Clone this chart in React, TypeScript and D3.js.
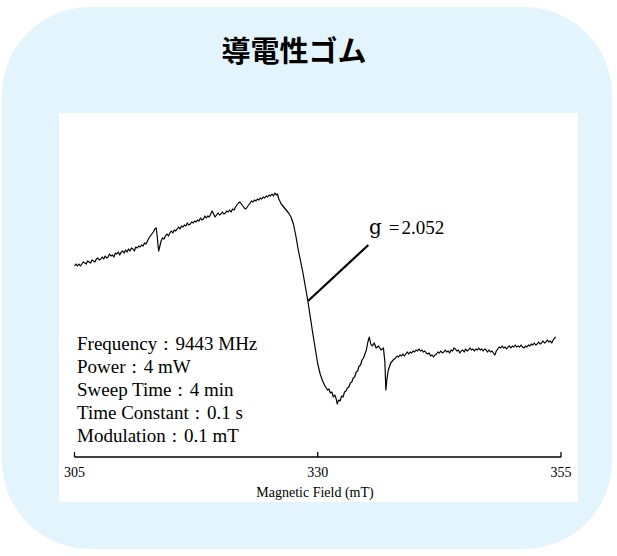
import React from "react";
import * as d3 from "d3";

// ESR spectrum of conductive rubber: [magnetic field (mT), signal (a.u.)]
const spectrum: [number, number][] = [
  [305.0, 34], [305.15, 36], [305.3, 34], [305.45, 36], [305.6, 34], [305.75, 36], [305.9, 38], [306.05, 37],
  [306.2, 36], [306.35, 39], [306.5, 38], [306.65, 37], [306.8, 40], [306.95, 39], [307.1, 38], [307.25, 41],
  [307.4, 42], [307.55, 40], [307.7, 41], [307.85, 43], [308.0, 41], [308.15, 44], [308.3, 42], [308.45, 43],
  [308.6, 46], [308.75, 44], [308.9, 45], [309.05, 43], [309.2, 47], [309.35, 46], [309.5, 48], [309.65, 45],
  [309.8, 48], [309.95, 49], [310.1, 47], [310.25, 50], [310.4, 48], [310.55, 51], [310.7, 49], [310.85, 52],
  [311.0, 51], [311.15, 49], [311.3, 53], [311.45, 52], [311.6, 54], [311.75, 53], [311.9, 55],
  [312.05, 54], [312.2, 57], [312.35, 56], [312.5, 59], [312.65, 62], [312.8, 64], [312.95, 66], [313.1, 68],
  [313.25, 71], [313.4, 72], [313.5, 64], [313.58, 55], [313.65, 49], [313.75, 53], [313.9, 59], [314.05, 62],
  [314.2, 61], [314.35, 64], [314.5, 66], [314.65, 64], [314.8, 67], [314.95, 69], [315.1, 67], [315.25, 70],
  [315.4, 69], [315.55, 71], [315.7, 73], [315.85, 71], [316.0, 74], [316.15, 73], [316.3, 75], [316.45, 74],
  [316.6, 77], [316.75, 75], [316.9, 76], [317.05, 78], [317.2, 77], [317.35, 79], [317.5, 78], [317.65, 80],
  [317.8, 79], [317.95, 82], [318.1, 80], [318.25, 81], [318.4, 84], [318.55, 82], [318.7, 84], [318.85, 83],
  [319.0, 86], [319.15, 89], [319.3, 86], [319.45, 83], [319.6, 85], [319.75, 87], [319.9, 85], [320.05, 86],
  [320.2, 88], [320.35, 86], [320.5, 87], [320.65, 89], [320.8, 88], [320.95, 90], [321.1, 88], [321.25, 91],
  [321.4, 90], [321.55, 93], [321.7, 95], [321.85, 97], [322.0, 98], [322.15, 96], [322.3, 94], [322.45, 92],
  [322.6, 91], [322.75, 93], [322.9, 95], [323.05, 97], [323.2, 99], [323.35, 98], [323.5, 100], [323.65, 99],
  [323.8, 101], [323.95, 100], [324.1, 102], [324.25, 101], [324.4, 103], [324.55, 102], [324.7, 104], [324.85, 103],
  [325.0, 105], [325.15, 104], [325.3, 106], [325.45, 104], [325.6, 107], [325.75, 105], [325.85, 106],
  [326.0, 101], [326.25, 96], [326.5, 93], [326.75, 90], [327.0, 87], [327.25, 83], [327.5, 76], [327.75, 64],
  [328.0, 50], [328.25, 38], [328.5, 26], [328.75, 12], [329.0, -2], [329.25, -18], [329.5, -34], [329.75, -49],
  [330.0, -64], [330.25, -74], [330.5, -81], [330.75, -86], [331.0, -90], [331.15, -89], [331.3, -93], [331.45, -92],
  [331.6, -97], [331.75, -95], [331.9, -99], [332.0, -104], [332.15, -100], [332.3, -101], [332.45, -96], [332.6, -97],
  [332.75, -92], [332.9, -91], [333.05, -88], [333.2, -87], [333.35, -83], [333.5, -82], [333.65, -78], [333.8, -77],
  [333.95, -72], [334.1, -71], [334.25, -66], [334.4, -65], [334.55, -60], [334.7, -58], [334.85, -54], [335.0, -50],
  [335.15, -42], [335.3, -37], [335.45, -44], [335.6, -46], [335.8, -43], [336.0, -48], [336.25, -46], [336.5, -50],
  [336.75, -48], [336.9, -62], [337.0, -90], [337.1, -80], [337.25, -70], [337.5, -63], [337.75, -60],
  [338.0, -58], [338.15, -56], [338.3, -57], [338.45, -55], [338.6, -56], [338.75, -54], [338.9, -56], [339.05, -54],
  [339.2, -52], [339.35, -54], [339.5, -52], [339.65, -53], [339.8, -51], [339.95, -52], [340.1, -50], [340.25, -51],
  [340.4, -49], [340.55, -51], [340.7, -50], [340.85, -52], [341.0, -51], [341.15, -53], [341.3, -54], [341.45, -53],
  [341.6, -56], [341.75, -55], [341.9, -57], [342.05, -55], [342.2, -54], [342.35, -52], [342.5, -53], [342.65, -51],
  [342.8, -53], [342.95, -52], [343.1, -50], [343.25, -52], [343.4, -51], [343.55, -53], [343.7, -50], [343.85, -51],
  [344.0, -48], [344.15, -49], [344.3, -51], [344.45, -50], [344.6, -53], [344.75, -51], [344.9, -50], [345.05, -52],
  [345.2, -49], [345.35, -51], [345.5, -50], [345.65, -48], [345.8, -50], [345.95, -49], [346.1, -51], [346.25, -49],
  [346.4, -50], [346.55, -48], [346.7, -50], [346.85, -49], [347.0, -51], [347.15, -49], [347.3, -50], [347.45, -52],
  [347.6, -50], [347.75, -52], [347.9, -51], [348.05, -53], [348.2, -55], [348.35, -51], [348.5, -49], [348.65, -47],
  [348.8, -48], [348.95, -46], [349.1, -48], [349.25, -47], [349.4, -49], [349.55, -47], [349.7, -46], [349.85, -48],
  [350.0, -46], [350.15, -47], [350.3, -45], [350.45, -47], [350.6, -46], [350.75, -47], [350.9, -45], [351.05, -47],
  [351.2, -48], [351.35, -46], [351.5, -47], [351.65, -45], [351.8, -46], [351.95, -44], [352.1, -45], [352.25, -43],
  [352.4, -45], [352.55, -44], [352.7, -42], [352.85, -44], [353.0, -43], [353.15, -41], [353.3, -43], [353.45, -42],
  [353.6, -40], [353.75, -42], [353.9, -41], [354.05, -43], [354.2, -40], [354.35, -38], [354.45, -37],
];

const xTicks = [305, 330, 355];
const conditionLabels = ["Frequency", "Power", "Sweep Time", "Time Constant", "Modulation"];
const conditionValues = ["9443 MHz", "4 mW", "4 min", "0.1 s", "0.1 mT"];
const title = "導電性ゴム";
const gLabelValue = "2.052";
// annotation leader: from point on curve (field, signal) to label anchor
const leaderFrom: [number, number] = [329.0, -1];
const leaderTo: [number, number] = [335.2, 55];

const W = 617;
const H = 556;

export default function App() {
  const x = d3.scaleLinear().domain([305, 355]).range([74.5, 561]);
  const y = d3.scaleLinear().domain([-110, 110]).range([410, 190]);
  const line = d3
    .line<[number, number]>()
    .x((d) => x(d[0]))
    .y((d) => y(d[1]));

  const axisY = 457;
  const serif = "'Liberation Serif', 'Times New Roman', serif";

  return (
    <svg
      width={W}
      height={H}
      style={{ position: "absolute", left: 0, top: 0 }}
      xmlns="http://www.w3.org/2000/svg"
    >
      <rect x={0} y={0} width={W} height={H} fill="#ffffff" />
      <rect x={2} y={7} width={610} height={542} rx={88} ry={88} fill="#e3f4fd" />
      <text
        x={294}
        y={62}
        textAnchor="middle"
        fontFamily="'Noto Sans CJK JP', sans-serif"
        fontWeight={700}
        fontSize={29}
        fill="#000"
      >
        {title}
      </text>
      <rect x={59} y={113} width={519} height={389} fill="#ffffff" />

      <path d={line(spectrum) || ""} fill="none" stroke="#000" strokeWidth={1.2} strokeLinejoin="round" />

      <line
        x1={x(leaderFrom[0])}
        y1={y(leaderFrom[1])}
        x2={x(leaderTo[0])}
        y2={y(leaderTo[1])}
        stroke="#000"
        strokeWidth={2.2}
      />
      <text x={369} y={234} fill="#000" fontFamily={serif}>
        <tspan fontSize={20} fontFamily="'DejaVu Serif', serif">g</tspan>
        <tspan fontSize={19} dx={7}>=</tspan>
        <tspan fontSize={19} dx={2}>{gLabelValue}</tspan>
      </text>

      {conditionLabels.map((c, i) => (
        <text key={c} x={77} y={350 + i * 23} fontSize={19} fontFamily={serif} fill="#000">
          {c}
          <tspan dx={6}>:</tspan>
          <tspan dx={7}>{conditionValues[i]}</tspan>
        </text>
      ))}

      <line x1={x(305)} x2={x(355)} y1={axisY} y2={axisY} stroke="#000" strokeWidth={1.3} />
      {xTicks.map((t) => (
        <g key={t}>
          <line x1={x(t)} x2={x(t)} y1={axisY} y2={axisY - 5} stroke="#000" strokeWidth={1.3} />
          <text x={x(t)} y={477} textAnchor="middle" fontFamily={serif} fontSize={14} fill="#000">
            {t}
          </text>
        </g>
      ))}
      <text x={315} y={497} textAnchor="middle" fontFamily={serif} fontSize={14} fill="#000">
        Magnetic Field (mT)
      </text>
    </svg>
  );
}
